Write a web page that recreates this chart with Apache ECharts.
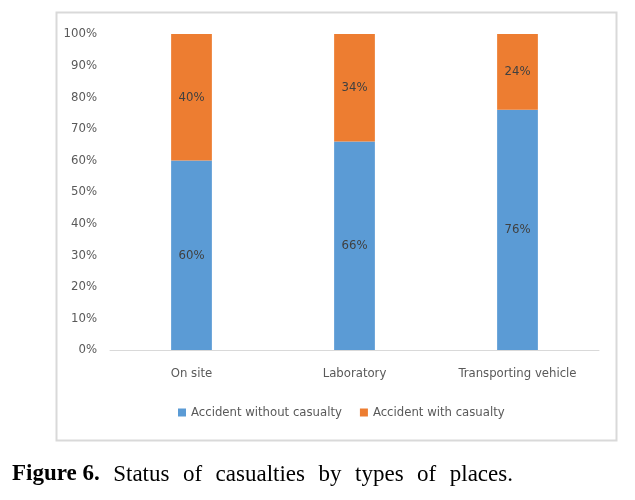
<!DOCTYPE html>
<html>
<head>
<meta charset="utf-8">
<script src="https://cdn.jsdelivr.net/npm/echarts@6/dist/echarts.min.js"></script>
<style>html,body{margin:0;padding:0;background:#fff;}#c{width:635px;height:500px;}</style>
</head>
<body>
<div id="c"></div>
<script>
var categories = ['On site', 'Laboratory', 'Transporting vehicle'];
var withoutCasualty = [60, 66, 76];
var withCasualty = [40, 34, 24];
var seriesNames = ['Accident without casualty', 'Accident with casualty'];
var captionBold = 'Figure 6.';
var captionWords = ['Status', 'of', 'casualties', 'by', 'types', 'of', 'places.'];

var font = '"Liberation Sans Narrow", "DejaVu Sans Condensed", sans-serif';
var captionRich = '{b|' + captionBold + '}{s| }' + captionWords.map(function (w) { return '{n|' + w + '}'; }).join('{s| }');
var chart = echarts.init(document.getElementById('c'));
chart.setOption({
  animation: false,
  backgroundColor: '#fff',
  graphic: [
    { type: 'rect', shape: { x: 56.5, y: 12.5, width: 560, height: 428 },
      style: { fill: 'none', stroke: '#d9d9d9', lineWidth: 2 }, z: -1 }
  ],
  title: {
    left: 7, top: 458,
    text: captionRich,
    textStyle: {
      fontWeight: 'normal',
      rich: {
        b: { fontFamily: '"Liberation Serif", serif', fontWeight: 'bold', fontSize: 23, color: '#000' },
        n: { fontFamily: '"Liberation Serif", serif', fontWeight: 'normal', fontSize: 23, color: '#000' },
        s: { fontFamily: '"Liberation Serif", serif', fontSize: 23, width: 13.5 }
      }
    }
  },
  legend: {
    data: seriesNames,
    bottom: 81, left: 178,
    itemWidth: 8, itemHeight: 8, icon: 'rect', itemGap: 18, padding: 0,
    textStyle: { fontFamily: font, fontSize: 13, color: '#595959' }
  },
  grid: { left: 110, right: 36, top: 34, bottom: 150 },
  xAxis: {
    type: 'category', data: categories,
    axisTick: { show: false },
    axisLine: { lineStyle: { color: '#d9d9d9', width: 1 } },
    axisLabel: { fontFamily: font, fontSize: 13, color: '#595959', margin: 17 }
  },
  yAxis: {
    type: 'value', min: 0, max: 100, interval: 10,
    splitLine: { show: false },
    axisLine: { show: false }, axisTick: { show: false },
    axisLabel: { formatter: '{value}%', fontFamily: font, fontSize: 13, color: '#595959', margin: 13 }
  },
  series: [
    { name: seriesNames[0], type: 'bar', stack: 'a', data: withoutCasualty, barWidth: '25%',
      itemStyle: { color: '#5B9BD5' },
      label: { show: true, position: 'inside', formatter: '{c}%', fontFamily: font, fontSize: 13, color: '#404040' } },
    { name: seriesNames[1], type: 'bar', stack: 'a', data: withCasualty, barWidth: '25%',
      itemStyle: { color: '#ED7D31' },
      label: { show: true, position: 'inside', formatter: '{c}%', fontFamily: font, fontSize: 13, color: '#404040' } }
  ]
});
</script>
</body>
</html>
